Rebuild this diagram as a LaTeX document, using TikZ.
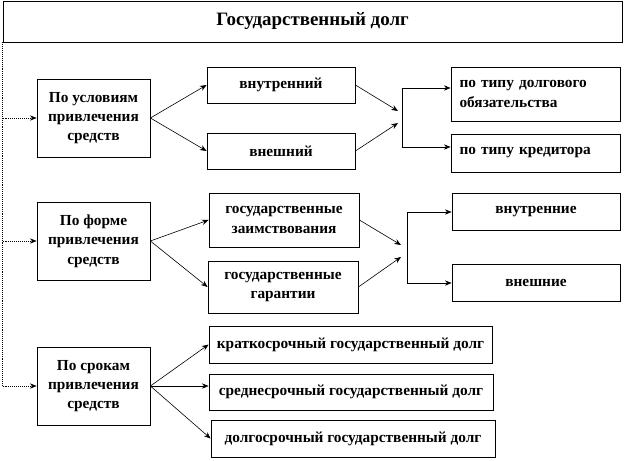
\documentclass[tikz,border=0pt]{standalone}
\usepackage{fontspec}
\setmainfont{Liberation Serif}
\usetikzlibrary{arrows.meta}
\tikzset{
  box/.style={draw=black, line width=0.6pt, inner sep=0pt, align=center, font=\fontsize{11.5}{14.5}\selectfont\bfseries},
  lbox/.style={box, align=left, text width=#1},
  conn/.style={draw=black, line width=0.45pt, -{Stealth[length=5pt,width=4pt]}},
  plain/.style={draw=black, line width=0.45pt},
  dotconn/.style={conn, densely dotted},
}
\begin{document}
\begin{tikzpicture}[x=0.75pt,y=-0.75pt]
\useasboundingbox (0,0) rectangle (624,460);
% title
\node[box, minimum width=619*0.75pt, minimum height=41*0.75pt, font=\fontsize{14.2}{17}\selectfont\bfseries] (title) at (312.5,21.5) {Государственный долг};
% left boxes
\node[box, minimum width=113*0.75pt, minimum height=78*0.75pt] (b1) at (93.5,118) {По условиям\\привлечения\\средств};
\node[box, minimum width=113*0.75pt, minimum height=78*0.75pt] (b2) at (93.5,241) {По форме\\привлечения\\средств};
\node[box, minimum width=113*0.75pt, minimum height=78*0.75pt] (b3) at (93.5,386) {По срокам\\привлечения\\средств};
% middle boxes
\node[box, minimum width=148*0.75pt, minimum height=36*0.75pt] (m1) at (281,85) {внутренний};
\node[box, minimum width=148*0.75pt, minimum height=36*0.75pt] (m2) at (281,151) {внешний};
\node[box, minimum width=150*0.75pt, minimum height=54*0.75pt] (m3) at (284,220) {государственные\\заимствования};
\node[box, minimum width=150*0.75pt, minimum height=52*0.75pt] (m4) at (283,287) {государственные\\гарантии};
\node[box, minimum width=283*0.75pt, minimum height=37*0.75pt] (m5) at (350.5,344.5) {краткосрочный государственный долг};
\node[box, minimum width=284*0.75pt, minimum height=36*0.75pt] (m6) at (351,392) {среднесрочный государственный долг};
\node[box, minimum width=284*0.75pt, minimum height=37*0.75pt] (m7) at (353,438.5) {долгосрочный государственный долг};
% right boxes
\node[lbox=152*0.75pt, minimum width=169*0.75pt, minimum height=54*0.75pt] (r1) at (535.5,94) {по типу долгового\\обязательства};
\node[lbox=152*0.75pt, minimum width=169*0.75pt, minimum height=38*0.75pt] (r2) at (535.5,153) {по типу кредитора};
\node[box, minimum width=168*0.75pt, minimum height=37*0.75pt] (r3) at (536,211.5) {внутренние};
\node[box, minimum width=168*0.75pt, minimum height=37*0.75pt] (r4) at (536,282.5) {внешние};
% trunk
\draw[plain, densely dotted] (title.south west) -- (title.south west |- b3.west);
\draw[dotconn] (title.south west |- b1.west) -- (b1.west);
\draw[dotconn] (title.south west |- b2.west) -- (b2.west);
\draw[dotconn] (title.south west |- b3.west) -- (b3.west);
% left to middle
\draw[conn] (b1.east) -- (m1.west);
\draw[conn] (b1.east) -- (m2.west);
\draw[conn] (b2.east) -- (m3.west);
\draw[conn] (b2.east) -- (m4.west);
\draw[conn] (b3.east) -- (m5.west);
\draw[conn] (b3.east) -- (b3.east -| m6.west);
\draw[conn] (b3.east) -- (m7.west);
% junction 1
\coordinate (j1a) at (398,111);
\coordinate (j1b) at (398,123);
\coordinate (v1t) at (402,88);
\coordinate (v1b) at (402,147);
\draw[conn] (m1.east) -- (j1a);
\draw[conn] (m2.east) -- (j1b);
\draw[plain] (v1t) -- (v1b);
\draw[conn] (v1t) -- (v1t -| r1.west);
\draw[conn] (v1b) -- (v1b -| r2.west);
% junction 2
\coordinate (j2a) at (401,245);
\coordinate (j2b) at (401,257);
\coordinate (v2t) at (407,212);
\coordinate (v2b) at (407,283);
\draw[conn] (m3.east) -- (j2a);
\draw[conn] (m4.east) -- (j2b);
\draw[plain] (v2t) -- (v2b);
\draw[conn] (v2t) -- (v2t -| r3.west);
\draw[conn] (v2b) -- (v2b -| r4.west);
\end{tikzpicture}
\end{document}
